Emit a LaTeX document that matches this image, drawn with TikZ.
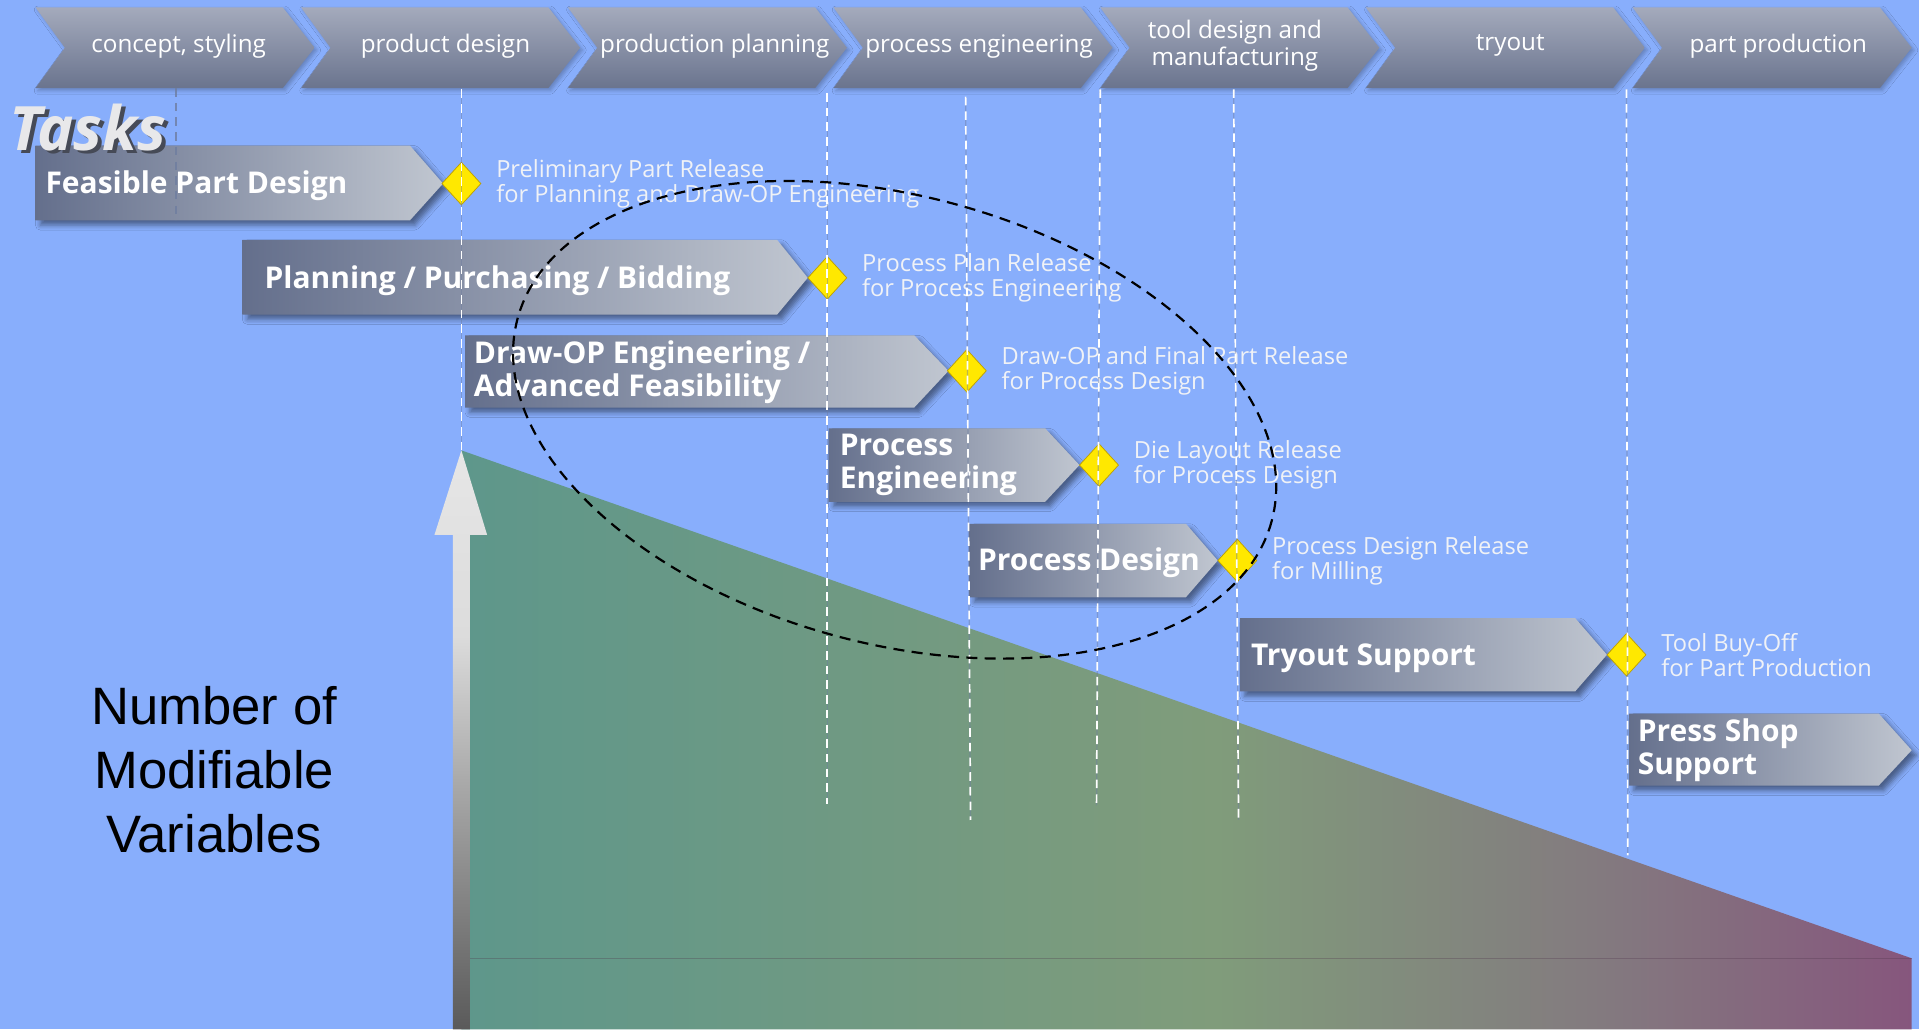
\documentclass[tikz,border=0pt]{standalone}
\usepackage{fontspec}
\setmainfont{Open Sans}
\newfontfamily\axisfont{Liberation Sans}
\usetikzlibrary{positioning,shapes.geometric,shadows.blur}

\definecolor{skyblue}{RGB}{136,174,252}
\definecolor{phasetop}{RGB}{164,170,188}
\definecolor{phasebot}{RGB}{106,116,142}
\definecolor{taskdark}{RGB}{100,111,140}
\definecolor{tasklight}{RGB}{192,198,208}
\definecolor{msyellow}{RGB}{255,232,0}
\definecolor{msedge}{RGB}{190,160,0}
\definecolor{mswhite}{RGB}{240,242,246}
\definecolor{guidegrey}{RGB}{110,125,160}
\definecolor{vteal}{RGB}{94,151,139}
\definecolor{volive}{RGB}{128,156,123}
\definecolor{vgrey}{RGB}{131,123,127}
\definecolor{vplum}{RGB}{134,86,125}
\definecolor{arrdark}{RGB}{90,90,90}
\definecolor{arrmid}{RGB}{168,168,168}
\definecolor{arrlight}{RGB}{220,220,220}
\definecolor{arrtop}{RGB}{230,230,230}
\definecolor{tasksgrey}{RGB}{232,232,234}
\definecolor{tasksdrop}{RGB}{70,74,86}

\pgfdeclarehorizontalshading{modvars}{100bp}{color(0bp)=(vteal); color(25bp)=(vteal); color(51bp)=(volive); color(64bp)=(vgrey); color(75bp)=(vplum); color(100bp)=(vplum)}
\pgfdeclareverticalshading{modarrow}{100bp}{color(0bp)=(arrdark); color(25bp)=(arrdark); color(46bp)=(arrmid); color(59bp)=(arrlight); color(75bp)=(arrtop); color(100bp)=(arrtop)}

\begin{document}
\begin{tikzpicture}[x=1pt,y=-1pt,
  phase/.style={top color=phasetop,bottom color=phasebot,
    blur shadow={shadow xshift=2pt,shadow yshift=-2pt,shadow blur radius=3pt,shadow opacity=25}},
  phasetext/.style={text=white,font=\fontsize{19.8}{22}\selectfont,align=center},
  task/.style={left color=taskdark,right color=tasklight,
    blur shadow={shadow xshift=4pt,shadow yshift=-4pt,shadow blur radius=4pt,shadow opacity=45}},
  tasktext/.style={text=white,font=\fontsize{24.5}{27}\selectfont\bfseries,anchor=west,align=left},
  milestone/.style={diamond,fill=msyellow,draw=msedge,line width=0.6pt,minimum width=32pt,minimum height=35pt},
  mstext/.style={text=mswhite,font=\fontsize{19.3}{20.5}\selectfont,align=left,anchor=west},
  guide/.style={white,line width=1.4pt,dash pattern=on 7pt off 5pt,
    preaction={draw=guidegrey,solid,line width=1pt,opacity=0.45}},
  guidedark/.style={guidegrey,line width=1.3pt,dash pattern=on 7pt off 5pt,opacity=0.8},
  focus/.style={black,line width=1.8pt,dash pattern=on 9pt off 6pt}]
\tikzstyle{every node}+=[inner sep=0pt]
\useasboundingbox (0,0) rectangle (1568,841);
\fill [skyblue] (0,0) rectangle (1568,841);
\shade [shading=modvars] (377,368) -- (1562,783) -- (1562,841) -- (377,841) -- cycle;
\draw [vplum!60!black,opacity=0.3,line width=0.8pt] (384,783.5) -- (1562,783.5);
\shade [shading=modarrow] (370,841) -- (370,437) -- (355,437) -- (377,368) -- (398,437) -- (384,437) -- (384,841) -- cycle;
\node [font=\axisfont\fontsize{43}{52.5}\selectfont,align=center] (variables) at (175,629) {Number of\\Modifiable\\Variables};
\path [phase] (29,6) -- (231,6) -- (257,39) -- (231,72) -- (29,72) -- (53,39) -- cycle;
\node [phasetext] (concept) at (146,38) {concept, styling};
\path [phase] (246,6) -- (448,6) -- (474,39) -- (448,72) -- (246,72) -- (270,39) -- cycle;
\node [phasetext] (product) at (364,38) {product design};
\path [phase] (464,6) -- (666,6) -- (692,39) -- (666,72) -- (464,72) -- (488,39) -- cycle;
\node [phasetext] (planning) at (584,38) {production planning};
\path [phase] (681,6) -- (883,6) -- (909,39) -- (883,72) -- (681,72) -- (705,39) -- cycle;
\node [phasetext] (engineering) at (800,38) {process engineering};
\path [phase] (899,6) -- (1101,6) -- (1127,39) -- (1101,72) -- (899,72) -- (923,39) -- cycle;
\node [phasetext] (tooling) at (1009,37) {tool design and\\manufacturing};
\path [phase] (1116,6) -- (1318,6) -- (1344,39) -- (1318,72) -- (1116,72) -- (1140,39) -- cycle;
\node [phasetext] (tryout) at (1234,37) {tryout};
\path [phase] (1334,6) -- (1536,6) -- (1562,39) -- (1536,72) -- (1334,72) -- (1358,39) -- cycle;
\node [phasetext] (production) at (1453,38) {part production};
\path [task] (29,119) -- (335,119) -- (362,150) -- (335,180) -- (29,180) -- cycle;
\node [tasktext] (feasible) at (37,152) {Feasible Part Design};
\path [task] (198,196) -- (635,196) -- (660,227) -- (635,257) -- (198,257) -- cycle;
\node [tasktext] (bidding) at (216,229) {Planning / Purchasing / Bidding};
\path [task] (380,274) -- (747,274) -- (775,303) -- (747,333) -- (380,333) -- cycle;
\node [tasktext] (drawop) at (387,304) {Draw-OP Engineering /\\Advanced Feasibility};
\path [task] (677,350) -- (854,350) -- (882,380) -- (854,410) -- (677,410) -- cycle;
\node [tasktext] (proceng) at (686,380) {Process\\Engineering};
\path [task] (792,428) -- (969,428) -- (995,458) -- (969,488) -- (792,488) -- cycle;
\node [tasktext] (procdesign) at (799,460) {Process Design};
\path [task] (1013,505) -- (1287,505) -- (1313,535) -- (1287,565) -- (1013,565) -- cycle;
\node [tasktext] (support) at (1022,538) {Tryout Support};
\path [task] (1331,583) -- (1535,583) -- (1562,613) -- (1535,642) -- (1331,642) -- cycle;
\node [tasktext] (pressshop) at (1338,613) {Press Shop\\Support};
\node [text=tasksdrop,font=\fontsize{50}{50}\selectfont\bfseries\itshape] (tasksdrop) at (75,107) {Tasks};
\node [text=tasksgrey,font=\fontsize{50}{50}\selectfont\bfseries\itshape] (tasks) at (72,104) {Tasks};
\node [milestone] (ms1) at (377,150) {};
\node [milestone] (ms2) at (676,227) {};
\node [milestone] (ms3) at (790,303) {};
\node [milestone] (ms4) at (898,380) {};
\node [milestone] (ms5) at (1011,458) {};
\node [milestone] (ms6) at (1329,535) {};
\node [mstext,right=12pt of ms1] (ml1) {Preliminary Part Release\\for Planning and Draw-OP Engineering};
\node [mstext,right=12pt of ms2] (ml2) {Process Plan Release\\for Process Engineering};
\node [mstext,right=12pt of ms3] (ml3) {Draw-OP and Final Part Release\\for Process Design};
\node [mstext,right=12pt of ms4] (ml4) {Die Layout Release\\for Process Design};
\node [mstext,right=12pt of ms5] (ml5) {Process Design Release\\for Milling};
\node [mstext,right=12pt of ms6] (ml6) {Tool Buy-Off\\for Part Production};
\coordinate (g0a) at (144,72);
\coordinate (g0b) at (144,180);
\coordinate (g1a) at (377,73);
\coordinate (g1b) at (377,368);
\coordinate (g2a) at (676,76);
\coordinate (g2b) at (676,657);
\coordinate (g3a) at (789,79);
\coordinate (g3b) at (793,670);
\coordinate (g4a) at (899,73);
\coordinate (g4b) at (896,658);
\coordinate (g5a) at (1008,73);
\coordinate (g5b) at (1012,670);
\coordinate (g6a) at (1329,73);
\coordinate (g6b) at (1330,699);
\draw [guidedark] (g0a) -- (g0b);
\draw [guide] (g1a) -- (g1b);
\draw [guide] (g2a) -- (g2b);
\draw [guide] (g3a) -- (g3b);
\draw [guide] (g4a) -- (g4b);
\draw [guide] (g5a) -- (g5b);
\draw [guide] (g6a) -- (g6b);
\draw [focus,rotate around={-15:(731,343)}] (731,343) ellipse [x radius=319,y radius=183];
\end{tikzpicture}
\end{document}
